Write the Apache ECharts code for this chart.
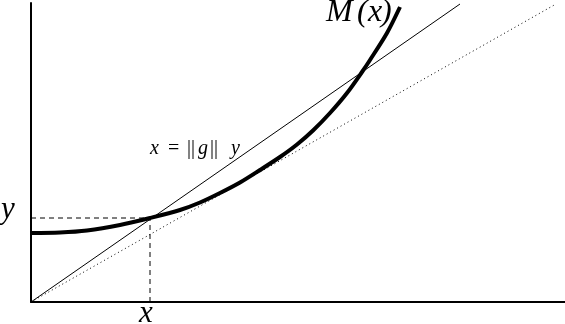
<!DOCTYPE html>
<html>
<head>
<meta charset="utf-8">
<script src="https://cdn.jsdelivr.net/npm/echarts@6/dist/echarts.min.js"></script>
<style>html,body{margin:0;padding:0;background:#fff}#c{width:565px;height:324px}</style>
</head>
<body>
<div id="c"></div>
<script>
// Curve M(x): [x, y]
const curveX = [0, 0.58, 1.12, 1.78, 2.38, 2.98, 3.38, 3.78, 4.18, 4.58, 4.98, 5.32, 5.64, 5.98, 6.32, 6.62, 6.78, 7.12, 7.38];
const curveY = [1.38, 1.39, 1.43, 1.54, 1.68, 1.84, 1.99, 2.18, 2.39, 2.64, 2.90, 3.15, 3.43, 3.78, 4.18, 4.60, 4.84, 5.38, 5.90];
// Line x = ||g|| y
const solidX = [0, 8.58];
const solidY = [0, 5.96];
// Dotted line (tangent)
const dottedX = [0, 10.5];
const dottedY = [0, 5.96];
// Marked point (x, y)
const pointX = 2.38;
const pointY = 1.68;
const axisMax = {x: 10.68, y: 5.98};

const zip = (a, b) => a.map((v, i) => [v, b[i]]);
const chart = echarts.init(document.getElementById('c'));
const t = (text, left, top, size, italic) => ({type: 'text', left, top, silent: true,
  style: {text, fontFamily: 'Liberation Serif', fontSize: size, fontStyle: italic ? 'italic' : 'normal', fill: '#000'}});
chart.setOption({
  animation: false,
  grid: {left: 31, right: 0, top: 3, bottom: 22, containLabel: false},
  xAxis: {type: 'value', min: 0, max: axisMax.x,
    axisLine: {show: true, onZero: false, lineStyle: {color: '#000', width: 2}},
    axisTick: {show: false}, axisLabel: {show: false}, splitLine: {show: false}},
  yAxis: {type: 'value', min: 0, max: axisMax.y,
    axisLine: {show: true, onZero: false, lineStyle: {color: '#000', width: 2}},
    axisTick: {show: false}, axisLabel: {show: false}, splitLine: {show: false}},
  series: [
    {type: 'line', data: zip(dottedX, dottedY), showSymbol: false, silent: true,
      lineStyle: {color: '#000', width: 1, type: [1, 3]}},
    {type: 'line', data: zip(solidX, solidY), showSymbol: false, silent: true,
      lineStyle: {color: '#000', width: 1}},
    {type: 'line', data: [[0, pointY], [pointX, pointY]], showSymbol: false, silent: true,
      lineStyle: {color: '#000', width: 1, type: [5, 4]}},
    {type: 'line', data: [[pointX, 0], [pointX, pointY]], showSymbol: false, silent: true,
      lineStyle: {color: '#000', width: 1, type: [5, 4]}},
    {type: 'line', data: zip(curveX, curveY), showSymbol: false, silent: true, smooth: 0.3,
      lineStyle: {color: '#000', width: 4}}
  ],
  graphic: [
    t('y', 1, 194, 31, true),
    t('x', 139, 298, 31, true),
    t('M', 326, -3, 32, true),
    t('(', 357, -3, 32, true),
    t('x', 368, -3, 32, true),
    t(')', 381, -3, 32, true),
    t('x', 150, 139, 20, true),
    t('=', 168, 139, 20, false),
    t('||', 187, 139, 20, false),
    t('g', 198, 139, 20, true),
    t('||', 210, 139, 20, false),
    t('y', 231, 139, 20, true)
  ]
});
</script>
</body>
</html>
